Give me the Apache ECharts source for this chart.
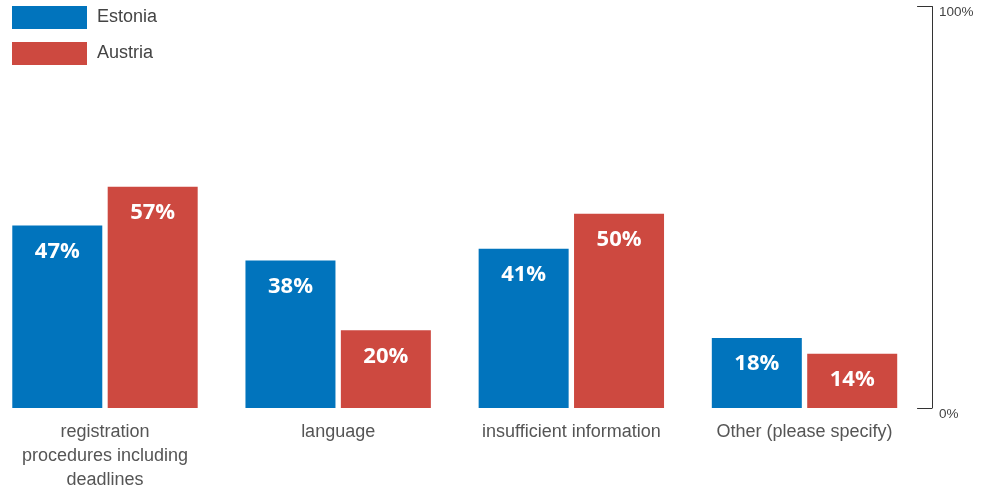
<!DOCTYPE html>
<html>
<head>
<meta charset="utf-8">
<style>
  html, body { margin: 0; padding: 0; background: #fff; }
  #chart { width: 993px; height: 490px; }
</style>
<script src="https://cdn.jsdelivr.net/npm/echarts@6/dist/echarts.min.js"></script>
</head>
<body>
<div id="chart"></div>
<script>
// Obstacles reported, share of respondents (%)
const categories = [
  'registration\nprocedures including\ndeadlines',
  'language',
  'insufficient information',
  'Other (please specify)'
];
const estonia = [47, 38, 41, 18];
const austria = [57, 20, 50, 14];
const scaleTicks = [0, 100];

const BLUE = '#0174bd';
const RED = '#cd4940';
const FONT = '"Liberation Sans", Arial, sans-serif';

const chart = echarts.init(document.getElementById('chart'));

const barLabel = {
  show: true,
  position: 'insideTop',
  distance: 15,
  color: '#fff',
  fontFamily: '"Open Sans", sans-serif',
  fontWeight: 'bold',
  fontSize: 22,
  formatter: p => p.value + '%'
};

chart.setOption({
  animation: false,
  backgroundColor: '#fff',
  textStyle: { fontFamily: FONT },
  legend: {
    orient: 'vertical',
    left: 12,
    top: 6,
    padding: 0,
    itemWidth: 75,
    itemHeight: 23,
    itemGap: 13,
    icon: 'rect',
    textStyle: { fontSize: 18, color: '#444', fontFamily: FONT, padding: [0, 0, 0, 5] },
    data: ['Estonia', 'Austria']
  },
  grid: {
    left: -11.6,
    right: 71.9,
    top: 6.5,
    bottom: 82,
    containLabel: false,
    outerBoundsMode: 'none'
  },
  xAxis: {
    type: 'category',
    data: categories,
    axisLine: { show: false },
    axisTick: { show: false },
    axisLabel: {
      interval: 0,
      margin: 12,
      color: '#555',
      fontSize: 18,
      lineHeight: 24,
      fontFamily: FONT
    }
  },
  yAxis: [
    {
      // value scale used by the bars
      type: 'value',
      min: 0,
      max: 103.4,
      show: false
    },
    {
      // percentage scale drawn on the right
      type: 'value',
      position: 'right',
      offset: 11,
      min: scaleTicks[0],
      max: scaleTicks[1],
      interval: scaleTicks[1] - scaleTicks[0],
      splitLine: { show: false },
      axisLine: { show: true, lineStyle: { color: '#333', width: 1 } },
      axisTick: { show: true, inside: true, length: 15, lineStyle: { color: '#333', width: 1 } },
      axisLabel: {
        margin: 7,
        color: '#444',
        fontSize: 13.5,
        fontFamily: FONT,
        verticalAlign: 'top',
        lineHeight: 12,
        formatter: v => v + '%'
      }
    }
  ],
  series: [
    {
      name: 'Estonia',
      type: 'bar',
      yAxisIndex: 0,
      data: estonia,
      barWidth: 90,
      barGap: '6%',
      itemStyle: { color: BLUE },
      label: barLabel
    },
    {
      name: 'Austria',
      type: 'bar',
      yAxisIndex: 0,
      data: austria,
      barWidth: 90,
      barGap: '6%',
      itemStyle: { color: RED },
      label: barLabel
    }
  ]
});
</script>
</body>
</html>
